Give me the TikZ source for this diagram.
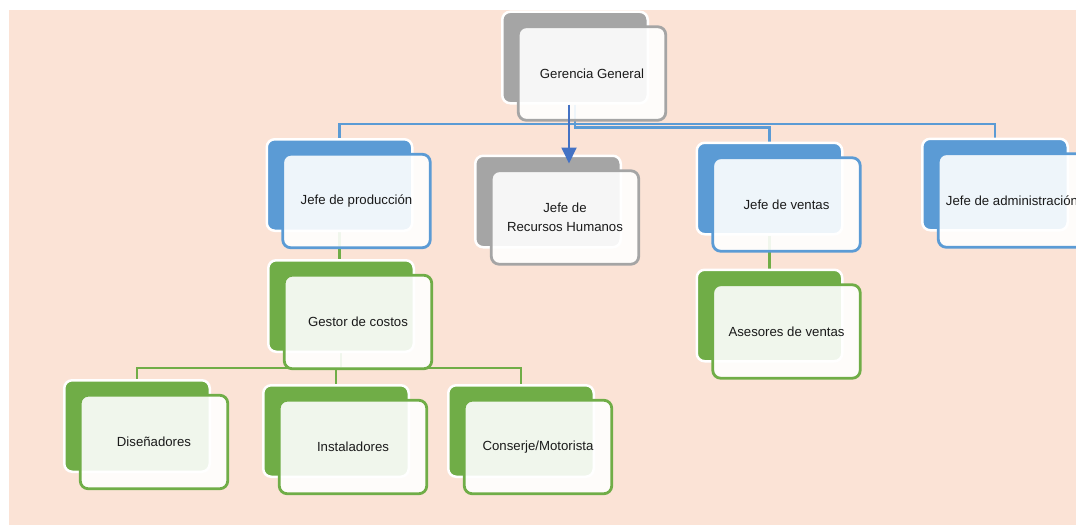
\documentclass[tikz,border=0pt]{standalone}
\usepackage{fontspec}
\setmainfont{Liberation Sans}
\usetikzlibrary{calc,arrows.meta}
\pgfdeclarelayer{bg}
\pgfsetlayers{bg,main}
\definecolor{peach}{HTML}{FBE3D6}
\definecolor{cblue}{HTML}{5B9BD5}
\definecolor{cgreen}{HTML}{70AD47}
\definecolor{cgray}{HTML}{A5A5A5}
\definecolor{carrow}{HTML}{4472C4}
\definecolor{ctext}{HTML}{1A1A1A}
\newcommand\orgbox[4]{%
  \node[backbox=#3] (#1B) at ($(#2)+(-17,-16)$) {};
  \node[frontbox=#3] (#1) at (#2) {#4};}
\begin{document}
\begin{tikzpicture}[x=1pt,y=-1pt,
  backbox/.style={draw=white,line width=2.5pt,rounded corners=8pt,
    minimum width=145.5pt,minimum height=91.5pt,inner sep=0pt,fill=#1},
  frontbox/.style={draw=#1,fill=white,fill opacity=0.9,text opacity=1,
    line width=2.8pt,rounded corners=8pt,minimum width=147.5pt,
    minimum height=93.5pt,inner sep=0pt,
    font=\fontsize{13.2}{19}\selectfont,text=ctext,align=center},
  blueline/.style={draw=cblue,line width=2.5pt},
  greenline/.style={draw=cgreen,line width=2.5pt},
  arrowline/.style={draw=carrow,line width=1.8pt,
    -{Triangle[width=15pt,length=16pt]}}]
\useasboundingbox (0,0) rectangle (1076,527);
\orgbox{gg}{592,73.5}{cgray}{Gerencia General}
\orgbox{jp}{356.5,201}{cblue}{Jefe de producción}
\orgbox{rh}{565,217.5}{cgray}{Jefe de\\Recursos Humanos}
\orgbox{jv}{786.5,204.5}{cblue}{Jefe de ventas}
\orgbox{ja}{1012,200.5}{cblue}{Jefe de administración}
\orgbox{gc}{358,322}{cgreen}{Gestor de costos}
\orgbox{av}{786.5,331.5}{cgreen}{Asesores de ventas}
\orgbox{di}{154,442}{cgreen}{Diseñadores}
\orgbox{in}{353,447}{cgreen}{Instaladores}
\orgbox{cm}{538,447}{cgreen}{Conserje/Motorista}
\coordinate (arrx) at (569,0);
\draw[arrowline] (ggB.south -| arrx) -- ($(rhB.north -| arrx)+(0,9)$);
\begin{pgfonlayer}{bg}
  \fill[peach] (9,10) rectangle (1076,525);
  \draw[blueline] (jpB.north) -- ++(0,-14) -| (jaB.north);
  \draw[blueline] (ggB.south) -- ++(0,23) -| (jvB.north);
  \draw[greenline] (jpB.south) -- (jpB.south |- gcB.north);
  \draw[greenline] (gcB.south) -- ++(0,15) coordinate (gcj);
  \draw[greenline] (diB.north) |- (gcj) -| (cmB.north);
  \draw[greenline] (inB.north) -- (inB.north |- gcj);
  \draw[greenline] (jvB.south) -- (jvB.south |- avB.north);
\end{pgfonlayer}
\end{tikzpicture}
\end{document}
